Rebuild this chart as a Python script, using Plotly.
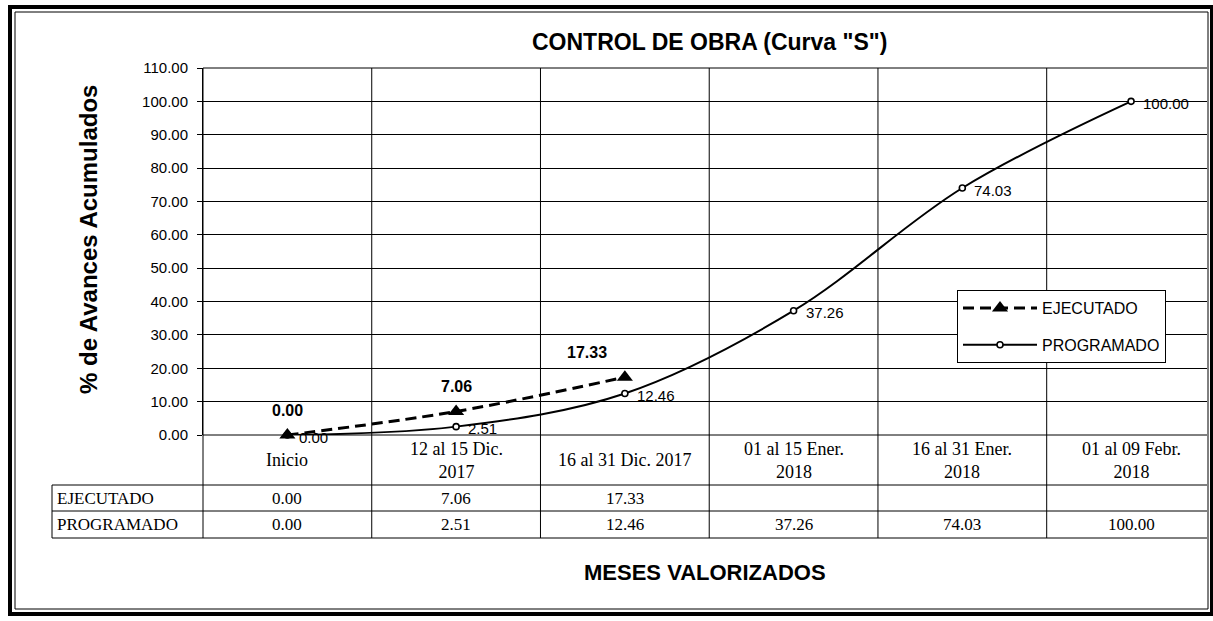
import plotly.graph_objects as go

# ---------------- data ----------------
categories = ["Inicio", "12 al 15 Dic.<br>2017", "16 al 31 Dic. 2017",
              "01 al 15 Ener.<br>2018", "16 al 31 Ener.<br>2018", "01 al 09 Febr.<br>2018"]
ejecutado = [0.00, 7.06, 17.33]
programado = [0.00, 2.51, 12.46, 37.26, 74.03, 100.00]
y_ticks = [0, 10, 20, 30, 40, 50, 60, 70, 80, 90, 100, 110]
row_names = ["EJECUTADO", "PROGRAMADO"]

x_idx = list(range(len(categories)))

SANS = "Liberation Sans, Arial, sans-serif"
SERIF = "Liberation Serif, Times New Roman, serif"

# page geometry (pixels) -> paper conversion
W, H = 1213, 621
L, R_EDGE, TOP, BOT = 203, 1207, 68, 435
PW, PH = R_EDGE - L, BOT - TOP


def px(x):
    return (x - L) / PW


def py(y):
    return (BOT - y) / PH


fig = go.Figure()

fig.add_trace(go.Scatter(
    x=x_idx, y=programado, name="PROGRAMADO", mode="lines+markers",
    line=dict(color="black", width=2, shape="spline", smoothing=1),
    marker=dict(symbol="circle", size=6, color="white", line=dict(color="black", width=1.6)),
    legendgroup="p", legendrank=2, cliponaxis=False))

fig.add_trace(go.Scatter(
    x=x_idx[:len(ejecutado)], y=ejecutado, name="EJECUTADO", mode="lines+markers",
    line=dict(color="black", width=3, dash="11px,6px", shape="spline", smoothing=1),
    marker=dict(symbol="triangle-up", size=14, color="black"),
    legendgroup="e", legendrank=1, cliponaxis=False))

shapes = []
line_k = dict(color="black", width=1)
# plot top & bottom borders
shapes.append(dict(type="line", xref="paper", yref="paper", x0=0, x1=1, y0=1, y1=1, line=line_k))
shapes.append(dict(type="line", xref="paper", yref="paper", x0=0, x1=1, y0=0, y1=0, line=line_k))
# table geometry
t_top, t_mid, t_bot = py(485), py(511), py(538)
lab_left = px(52)
for b in range(len(categories)):
    xb = b - 0.5
    if b == 0:
        shapes.append(dict(type="line", xref="paper", yref="paper", x0=0, x1=0, y0=t_bot, y1=1, line=line_k))
    else:
        shapes.append(dict(type="line", xref="x", yref="paper", x0=xb, x1=xb, y0=t_bot, y1=1, line=line_k))
for yy in (t_top, t_mid, t_bot):
    shapes.append(dict(type="line", xref="paper", yref="paper", x0=lab_left, x1=1, y0=yy, y1=yy, line=line_k))
shapes.append(dict(type="line", xref="paper", yref="paper", x0=lab_left, x1=lab_left, y0=t_bot, y1=t_top, line=line_k))
# outer double frame
shapes.append(dict(type="rect", xref="paper", yref="paper", x0=px(10), x1=px(1212), y0=py(614), y1=py(7),
                   line=dict(color="black", width=4)))
shapes.append(dict(type="rect", xref="paper", yref="paper", x0=px(15), x1=px(1208), y0=py(609), y1=py(12),
                   line=dict(color="black", width=1)))

ann = []


def A(**kw):
    base = dict(showarrow=False, xanchor="center", yanchor="middle")
    base.update(kw)
    ann.append(base)


A(text="<b>CONTROL DE OBRA (Curva \"S\")</b>", xref="paper", yref="paper",
  x=px(709), y=py(42), font=dict(family=SANS, size=23, color="black"))
A(text="<b>% de Avances Acumulados</b>", xref="paper", yref="paper", textangle=-90,
  x=px(88), y=py(240), font=dict(family=SANS, size=24, color="black"))
A(text="<b>MESES VALORIZADOS</b>", xref="paper", yref="paper",
  x=px(705), y=py(572), font=dict(family=SANS, size=22, color="black"))
# category label row
for i, c in enumerate(categories):
    A(text=c, xref="x", yref="paper", x=i, y=py(460), font=dict(family=SERIF, size=18, color="black"))
# table rows
row_vals = [ejecutado, programado]
row_y = [py(498), py(524)]
for name, vals, yy in zip(row_names, row_vals, row_y):
    A(text=name, xref="paper", yref="paper", x=px(55), xanchor="left", y=yy,
      font=dict(family=SERIF, size=17, color="black"))
    for i, v in enumerate(vals):
        A(text=f"{v:.2f}", xref="x", yref="paper", x=i, y=yy, font=dict(family=SERIF, size=17, color="black"))
# programado point labels
for i, v in enumerate(programado):
    A(text=f"{v:.2f}", xref="x", yref="y", x=i, y=v, xanchor="left", xshift=10, yshift=-2,
      font=dict(family=SANS, size=15, color="black"))
# ejecutado point labels
e_xshift = [0, 0, -38]
for i, v in enumerate(ejecutado):
    A(text=f"<b>{v:.2f}</b>", xref="x", yref="y", x=i, y=v, yshift=25, xshift=e_xshift[i],
      font=dict(family=SANS, size=16, color="black"))

fig.update_layout(
    width=W, height=H,
    margin=dict(l=L, r=W - R_EDGE, t=TOP, b=H - BOT),
    paper_bgcolor="white", plot_bgcolor="white",
    shapes=shapes, annotations=ann,
    showlegend=True,
    legend=dict(x=px(957), y=py(290), xanchor="left", yanchor="top", bgcolor="white",
                bordercolor="black", borderwidth=1, font=dict(family=SANS, size=16, color="black"),
                itemwidth=74, traceorder="grouped", tracegroupgap=13),
    xaxis=dict(range=[-0.5, 5.45], showgrid=False, showticklabels=False, zeroline=False,
               showline=False, ticks="", fixedrange=True),
    yaxis=dict(range=[0, 110], tickvals=y_ticks, tickformat=".2f", ticks="outside", ticklen=5,
               tickcolor="black", showgrid=True, gridcolor="black", gridwidth=1, showline=True,
               linecolor="black", linewidth=1, zeroline=False, ticklabelstandoff=6,
               tickfont=dict(family=SANS, size=15, color="black"), fixedrange=True),
)

fig.write_html("out.html", config={"displayModeBar": False},
               post_script="document.body.style.margin='0';document.body.style.padding='0';"
                           "document.body.style.overflow='hidden';")
